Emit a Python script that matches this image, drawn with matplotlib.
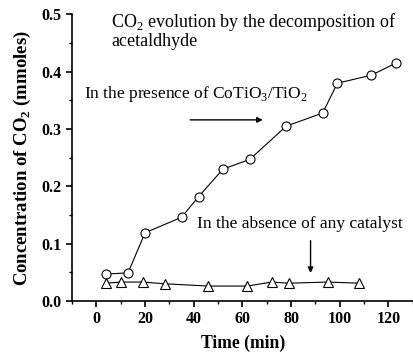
import matplotlib
matplotlib.use("Agg")

import matplotlib.pyplot as plt
from matplotlib.ticker import MultipleLocator, FormatStrFormatter

plt.rcParams["font.family"] = ["Liberation Serif", "DejaVu Serif"]
plt.rcParams["mathtext.fontset"] = "custom"
plt.rcParams["mathtext.rm"] = "Liberation Serif"
plt.rcParams["mathtext.bf"] = "Liberation Serif:bold"

# Con catalizador CoTiO3/TiO2
t_cat = [4, 13, 20, 35, 42, 52, 63, 78, 93, 99, 113, 123]
co2_cat = [0.047, 0.049, 0.119, 0.146, 0.182, 0.230, 0.247, 0.305, 0.328, 0.380, 0.394, 0.415]

# Sin catalizador
t_blank = [4, 10, 19, 28, 46, 62, 72, 79, 95, 108]
co2_blank = [0.031, 0.033, 0.033, 0.030, 0.026, 0.026, 0.033, 0.031, 0.033, 0.031]

fig = plt.figure(figsize=(4.14, 3.52), dpi=100)
ax = fig.add_axes([0.174, 0.145, 0.826, 0.814])

ax.plot(t_cat, co2_cat, "-o", color="black", lw=0.8, ms=6.5,
        mfc="white", mec="black", mew=0.8)
ax.plot(t_blank, co2_blank, "-^", color="black", lw=0.8, ms=7.5,
        mfc="white", mec="black", mew=0.8)

ax.set_xlim(-10, 130.5)
ax.set_ylim(0, 0.5)
ax.xaxis.set_major_locator(MultipleLocator(20))
ax.xaxis.set_minor_locator(MultipleLocator(10))
ax.yaxis.set_major_locator(MultipleLocator(0.1))
ax.yaxis.set_minor_locator(MultipleLocator(0.05))
ax.set_xticks(range(0, 121, 20))
ax.yaxis.set_major_formatter(FormatStrFormatter("%.1f"))

for s in ("top", "right"):
    ax.spines[s].set_visible(False)
for s in ("left", "bottom"):
    ax.spines[s].set_linewidth(1.2)

ax.tick_params(which="major", direction="out", length=4, width=1.2,
               labelsize=11.5)
ax.tick_params(which="minor", direction="out", length=2.5, width=1.0)
for lab in ax.get_xticklabels() + ax.get_yticklabels():
    lab.set_fontweight("bold")

ax.set_xlabel("Time (min)", fontsize=12.7, fontweight="bold", labelpad=5)
ax.set_ylabel(r"Concentration of CO$_\mathbf{2}$ (mmoles)", fontsize=13.5,
              fontweight="bold", labelpad=6)

ax.text(6.2, 0.478, r"CO$_2$ evolution by the decomposition of",
        fontsize=13, va="baseline", ha="left")
ax.text(6.2, 0.445, "acetaldhyde", fontsize=13, va="baseline", ha="left")
ax.text(-4.9, 0.354, r"In the presence of CoTiO$_3$/TiO$_2$",
        fontsize=12.5, va="baseline", ha="left")
ax.annotate("", xy=(69.5, 0.316), xytext=(37.4, 0.316),
            arrowprops=dict(arrowstyle="-|>", color="black", lw=1.0,
                            mutation_scale=8))
ax.text(41.5, 0.127, "In the absence of any catalyst",
        fontsize=12.5, va="baseline", ha="left")
ax.annotate("", xy=(88, 0.044), xytext=(88, 0.110),
            arrowprops=dict(arrowstyle="-|>", color="black", lw=1.0,
                            mutation_scale=8))

fig.savefig("out.png", dpi=100)
